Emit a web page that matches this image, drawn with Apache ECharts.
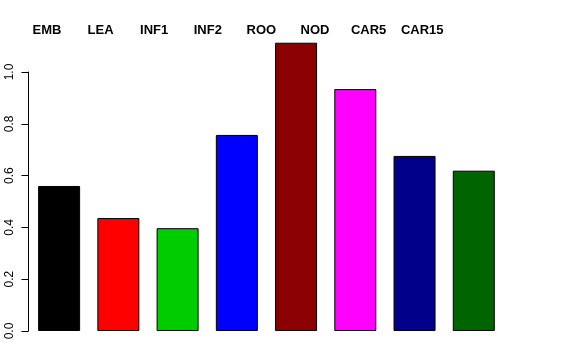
<!DOCTYPE html>
<html>
<head>
<meta charset="utf-8">
<script src="https://cdn.jsdelivr.net/npm/echarts@6/dist/echarts.min.js"></script>
<style>
html,body{margin:0;padding:0;background:#fff;}
#chart{width:576px;height:360px;}
</style>
</head>
<body>
<div id="chart"></div>
<script>
const categories = ['EMB', 'LEA', 'INF1', 'INF2', 'ROO', 'NOD', 'CAR5', 'CAR15'];
const values = [0.56, 0.436, 0.397, 0.757, 1.113, 0.934, 0.676, 0.619];
const barColors = ['#000000', '#FF0000', '#00CD00', '#0000FF', '#8B0000', '#FF00FF', '#00008B', '#006400'];
const yTicks = [0, 0.2, 0.4, 0.6, 0.8, 1.0];

const FONT = 'Liberation Sans, Arial, Helvetica, sans-serif';
const chart = echarts.init(document.getElementById('chart'), null, {renderer: 'canvas'});
chart.setOption({
  animation: false,
  backgroundColor: '#ffffff',
  grid: [
    {left: 29.5, right: 72.6, top: 72, bottom: 29, containLabel: false},
    {left: 20.2, right: 127, top: 40, height: 1, containLabel: false}
  ],
  xAxis: [
    {type: 'category', gridIndex: 0, data: categories, show: false, boundaryGap: true},
    {type: 'category', gridIndex: 1, data: categories, position: 'top',
     axisLine: {show: false}, axisTick: {show: false}, splitLine: {show: false},
     axisLabel: {show: true, interval: 0, margin: 3, color: '#000', fontSize: 13, fontWeight: 'bold', fontFamily: FONT}}
  ],
  yAxis: [
    {type: 'value', gridIndex: 0, min: 0, max: 1.0, interval: 0.2, offset: 1,
     axisLine: {show: true, lineStyle: {color: '#000', width: 1}},
     axisTick: {show: true, length: 7, lineStyle: {color: '#000'}},
     splitLine: {show: false},
     axisLabel: {show: true, rotate: 90, margin: 13, color: '#000', fontSize: 12, fontFamily: FONT,
       formatter: v => yTicks.includes(Math.round(v * 10) / 10) ? v.toFixed(1) : ''}},
    {type: 'value', gridIndex: 1, show: false}
  ],
  series: [{
    type: 'bar',
    xAxisIndex: 0, yAxisIndex: 0,
    clip: false,
    barWidth: 42,
    data: values.map((v, i) => ({value: v, itemStyle: {color: barColors[i]}})),
    itemStyle: {borderColor: '#000', borderWidth: 1}
  }]
});
</script>
</body>
</html>
